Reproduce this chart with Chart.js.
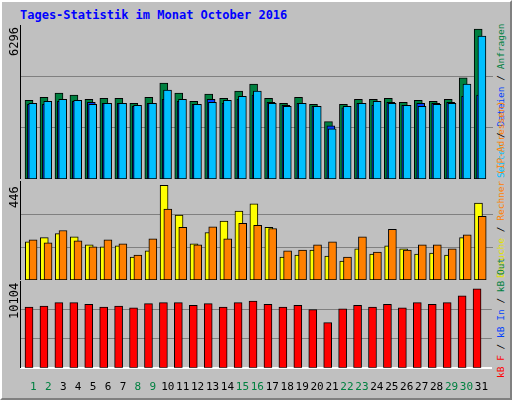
<!DOCTYPE html>
<html>
<head>
<meta charset="utf-8">
<script src="https://cdn.jsdelivr.net/npm/chart.js@4"></script>
<style>
  body { margin: 0; background: #c0c0c0; }
  #frame { position: relative; width: 508px; height: 396px; background: #c0c0c0;
           border-left: 2px solid #fff; border-top: 2px solid #fff; border-right: 2px solid #808080; border-bottom: 2px solid #808080;
           font-family: "DejaVu Sans Mono", monospace; overflow: hidden; }
  canvas { position: absolute; }
  .t { position: absolute; white-space: nowrap; font-size: 12px; }
  .rot { position: absolute; white-space: nowrap; font-size: 12px; line-height: 12px; transform-origin: 0 0; transform: rotate(-90deg); }
  .leg { font-size: 9.5px; line-height: 11px; }
</style>
</head>
<body>
<div id="frame">
  <div class="t" style="left:18px;top:6px;color:#0000ff;font-weight:bold;">Tages-Statistik im Monat October 2016</div>
  <canvas id="top" style="left:18px;top:23px;"></canvas>
  <canvas id="mid" style="left:18px;top:179px;"></canvas>
  <canvas id="bot" style="left:18px;top:279px;"></canvas>
  <div class="rot" style="left:6px;top:54px;">6296</div>
  <div class="rot" style="left:6px;top:206px;">446</div>
  <div class="rot" style="left:6px;top:317px;">10104</div>
  <div class="rot leg" style="left:493px;top:176px;"><span style="color:#00c0ff">Seiten</span> / <span style="color:#0040ff">Dateien</span> / <span style="color:#008040">Anfragen</span></div>
  <div class="rot leg" style="left:493px;top:276px;"><span style="color:#e0e000">Besuche</span> / <span style="color:#ff8000">Rechner (IP-Adressen)</span></div>
  <div class="rot leg" style="left:493px;top:376px;"><span style="color:#ff0000">kB F</span> / <span style="color:#0040ff">kB In</span> / <span style="color:#008040">kB Out</span></div>
</div>
<script>
const days = Array.from({length: 31}, (_, i) => i + 1);
const weekend = [1, 2, 8, 9, 15, 16, 22, 23, 29, 30];

const hits = [3218, 3343, 3509, 3426, 3259, 3301, 3301, 3093, 3343, 3925, 3509, 3176, 3468, 3301, 3592, 3884,
              3301, 3093, 3343, 3051, 2344, 3051, 3259, 3259, 3301, 3135, 3218, 3176, 3259, 4133, 6131];
const files = [3051, 3051, 3176, 3176, 3135, 3093, 3093, 2968, 3093, 3259, 3176, 3051, 3259, 3093, 3259, 3426,
               3135, 3010, 3093, 2968, 2178, 2913, 3093, 3010, 3135, 3010, 3093, 3093, 3135, 3384, 3426];
const pages = [3093, 3176, 3259, 3218, 3051, 3093, 3093, 3010, 3093, 3634, 3259, 3051, 3135, 3218, 3384, 3592,
               3093, 2968, 3093, 2968, 2053, 2968, 3093, 3176, 3093, 3010, 2968, 3051, 3093, 3884, 5840];
const visits = [172, 191, 209, 195, 158, 149, 154, 103, 131, 426, 292, 163, 214, 265, 311, 343,
                237, 103, 112, 135, 108, 85, 140, 117, 154, 140, 117, 121, 112, 191, 347];
const sites = [181, 168, 223, 177, 149, 181, 163, 112, 185, 320, 237, 159, 240, 185, 255, 246,
               232, 131, 135, 159, 172, 103, 195, 126, 228, 135, 159, 159, 140, 204, 287];
const kbytes = [7073, 7174, 7578, 7578, 7376, 7073, 7174, 6972, 7477, 7578, 7578, 7275, 7477, 7073, 7578, 7780,
                7376, 7073, 7275, 6769, 5254, 6871, 7275, 7073, 7376, 6972, 7578, 7376, 7578, 8386, 9194];

const xMin = 0.107, xMax = 31.7;

function shiftedAxis(off) {
  return { type: 'linear', display: false, offset: false, min: xMin - off, max: xMax - off };
}

function yAxis(max) {
  return {
    min: 0, max: max, display: true,
    afterBuildTicks: s => { s.ticks = [{value: max / 3}, {value: 2 * max / 3}]; },
    ticks: { display: false },
    grid: { color: '#808080', drawTicks: false, lineWidth: 1 },
    border: { display: true, color: '#000', width: 1 }
  };
}

function bars(values, color, axis, order, width) {
  return {
    data: values.map((v, i) => ({x: days[i], y: v})),
    backgroundColor: color, borderColor: '#000', borderWidth: 1,
    xAxisID: axis, order: order, barThickness: width, borderSkipped: false, grouped: false
  };
}

const common = {
  responsive: false, animation: false,
  layout: { padding: 0 },
  plugins: { legend: { display: false }, tooltip: { enabled: false } }
};

function makeChart(id, w, h, datasets, scales) {
  const c = document.getElementById(id);
  c.width = w; c.height = h;
  return new Chart(c.getContext('2d'), { type: 'bar', data: { datasets }, options: { ...common, scales } });
}

makeChart('top', 473, 154, [
  bars(hits, '#008040', 'xh', 3, 8),
  bars(files, '#0040ff', 'xf', 2, 8),
  bars(pages, '#00c0ff', 'xp', 1, 8)
], {
  x: { type: 'linear', display: false, offset: false, min: xMin, max: xMax },
  xh: shiftedAxis(-0.29), xf: shiftedAxis(-0.13), xp: shiftedAxis(-0.04),
  y: yAxis(6296)
});

makeChart('mid', 473, 99, [
  bars(visits, '#ffff00', 'xv', 2, 8),
  bars(sites, '#ff8000', 'xs', 1, 8)
], {
  x: { type: 'linear', display: false, offset: false, min: xMin, max: xMax },
  xv: shiftedAxis(-0.27), xs: shiftedAxis(-0.02),
  y: yAxis(446)
});

makeChart('bot', 473, 118, [
  bars(kbytes, '#ff0000', 'xk', 1, 8)
], {
  x: {
    type: 'linear', min: xMin, max: xMax, offset: false,
    afterBuildTicks: s => { s.ticks = days.map(d => ({value: d})); },
    ticks: {
      autoSkip: false, maxRotation: 0, padding: 5,
      font: { family: 'DejaVu Sans Mono', size: 11 },
      color: ctx => weekend.includes(ctx.tick.value) ? '#008040' : '#000'
    },
    grid: { display: false },
    border: { display: true, color: '#fff', width: 2 }
  },
  xk: shiftedAxis(-0.29),
  y: yAxis(10104)
});
</script>
</body>
</html>
